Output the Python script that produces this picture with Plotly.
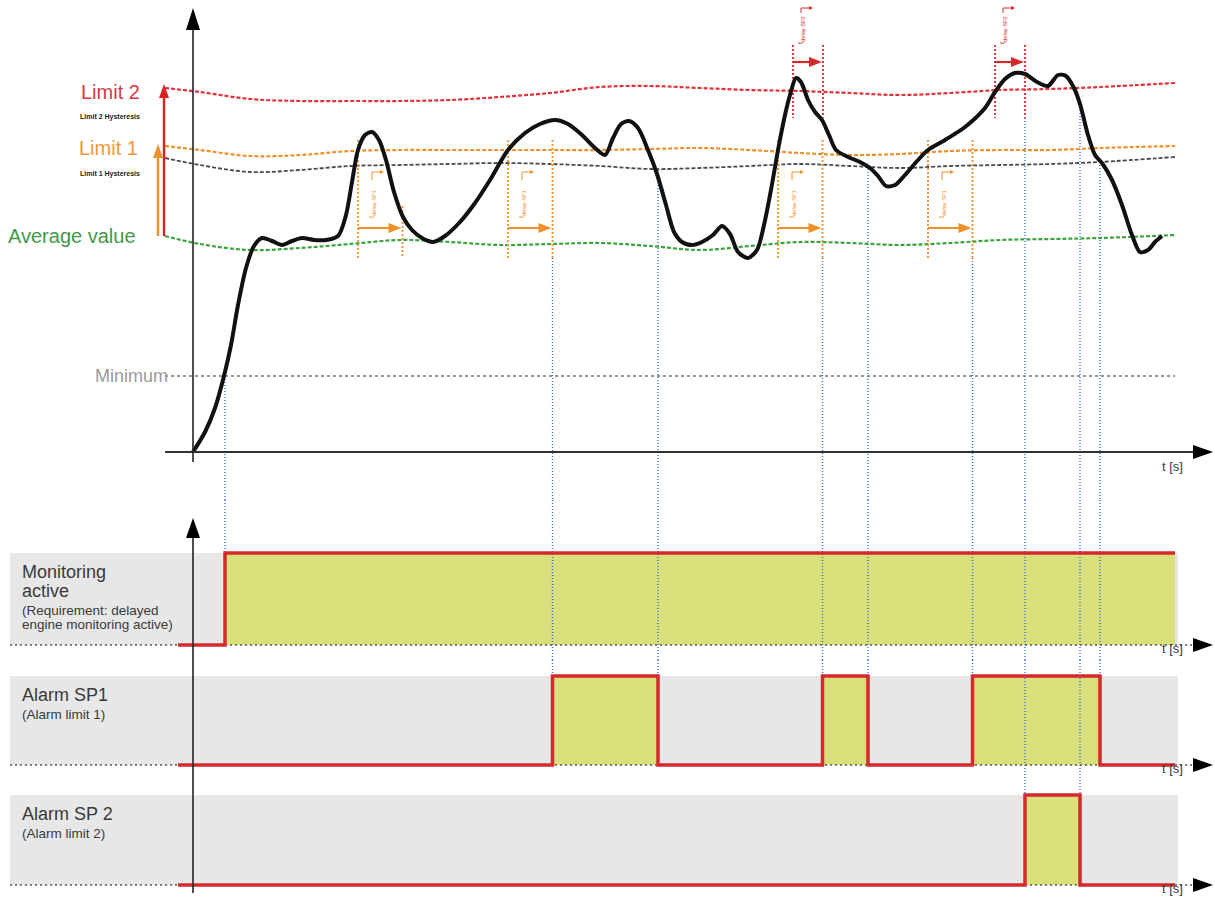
import plotly.graph_objects as go

W, H = 1215, 905
FONT = "Liberation Sans, Arial, sans-serif"

# ---------------- data ----------------
# measured signal (time [s], value)
signal_t = [0.0, 1.2, 2.2, 3.1, 3.8, 4.5, 5.3, 6.1, 6.9, 7.9,
            8.9, 9.9, 10.9, 12.1, 13.3, 14.5, 15.3, 15.9, 16.5, 17.2,
            17.9, 18.6, 19.3, 20.1, 21.0, 21.9, 22.9, 24.0, 25.2, 26.7,
            28.2, 29.7, 31.5, 33.2, 34.7, 36.2, 37.5, 38.9, 40.2, 41.2,
            42.0, 42.8, 43.6, 44.5, 45.5, 46.4, 47.3, 48.1, 48.9, 49.9,
            50.9, 52.0, 52.9, 53.7, 54.5, 55.5, 56.4, 57.1, 57.8, 58.5,
            59.2, 59.7, 60.3, 60.8, 61.5, 62.2, 62.9, 63.6, 64.3, 65.5,
            66.7, 67.7, 68.5, 69.3, 70.2, 71.2, 72.5, 73.5, 75.2, 77.2,
            79.2, 80.2, 81.2, 82.2, 83.2, 84.4, 85.5, 86.5, 87.3, 88.1,
            88.7, 89.5, 90.2, 90.9, 91.9, 92.9, 93.9, 94.7, 95.5, 96.2, 96.9]
signal_v = [0, 10, 22, 38, 53.5, 73.5, 92, 103, 107, 105.5,
            103.5, 105.5, 107, 106, 106, 108, 118.5, 135, 151, 158.5,
            160, 156, 146, 130, 117.5, 111, 107, 105, 108, 115,
            124.5, 136, 151, 159.5, 164, 166, 164, 158.5, 152, 148.5,
            157, 164, 165.5, 162, 151, 139, 123.5, 110, 105, 103.5,
            105, 108.5, 113, 109, 100, 97, 101, 113.5, 131, 151,
            168.5, 178.5, 187, 185, 176, 170, 166, 158.5, 151, 147.5,
            145, 142, 138, 133, 133.5, 138.5, 146, 151, 156, 162.5,
            172, 180, 186.5, 189.5, 189, 185, 183, 188.5, 188, 182,
            174, 158.5, 148.5, 144.5, 136, 123.5, 108.5, 100, 101, 105, 108]

# reference levels (slightly wavy)
ref_t = [-2.8, 0.7, 5.7, 10.7, 15.7, 20.7, 25.7, 30.7, 35.7, 40.7, 45.7,
         50.7, 55.7, 60.7, 65.7, 70.7, 75.7, 80.7, 85.7, 90.7, 98.2]
limit2_v = [182, 180, 176.5, 175.5, 175.5, 175.5, 176, 177.5, 179.5, 182.5, 183,
            182, 181, 180.5, 179.5, 178.5, 179.5, 181, 181.5, 182.5, 184.5]
limit1_v = [153, 151, 148, 148.5, 150.5, 151, 151, 151, 151, 151, 151.5,
            152, 151, 149.5, 148.5, 149, 150.5, 151, 151, 152, 153]
hyst1_v = [147, 143.5, 140, 141, 143, 143.5, 144, 144.5, 144, 143, 141.5,
           142, 143, 144, 143, 142, 143, 143.5, 144, 145, 147.5]
average_v = [108, 104, 101, 102, 104, 106, 105, 103.5, 104, 104.5, 103,
             101, 103, 105, 104.5, 103.5, 104.5, 106, 106.5, 107, 108.5]
minimum_v = 38

# delays and events
delay_sp1 = 4.45
sp1_cross = [16.5, 31.5, 58.5, 73.5]
delay_sp2 = 3.0
sp2_cross = [60.0, 80.2]
monitor_on = 3.2
sp1_on = [35.95, 62.95, 77.95]
sp1_off = [46.5, 67.5, 90.7]
sp2_on = [83.2]
sp2_off = [88.7]

# vertical guide lines: time, starting value in the top chart, panel where it ends
guide_t = [3.2, 35.95, 46.5, 62.95, 67.5, 77.95, 83.2, 88.7, 90.7]
guide_v = [38, 97, 141, 97, 143, 97, 167, 174, 145]
guide_panel = [1, 2, 2, 2, 2, 2, 3, 3, 2]

panel_labels = [
    [("Monitoring", 18), ("active", 18), ("(Requirement: delayed", 13.5), ("engine monitoring active)", 13.5)],
    [("Alarm SP1", 18), ("(Alarm limit 1)", 13.5)],
    [("Alarm SP 2", 18), ("(Alarm limit 2)", 13.5)],
]

# ---------------- layout geometry ----------------
X_RANGE = [-19.3, 102.2]
SX = W / (X_RANGE[1] - X_RANGE[0])
TOP_RANGE = [-24, 226]
TOP_PX = (0, 500)
SY_TOP = (TOP_PX[1] - TOP_PX[0]) / (TOP_RANGE[1] - TOP_RANGE[0])

# panels: (domain top px, domain bottom px, baseline px, high px)
panel_geo = [(500, 660, 645, 553), (660, 780, 765, 676), (780, 905, 885, 795)]


def paper_y(py):
    return 1 - py / H


def panel_axis(top, bottom, base, high):
    h = base - high
    return dict(domain=[paper_y(bottom), paper_y(top)],
                range=[(base - bottom) / h, (base - top) / h]), h


def head(tip_x, tip_y, direction, length, half, sx, sy):
    if direction == "right":
        bx = tip_x - length / sx
        return f"M {tip_x},{tip_y} L {bx},{tip_y + half / sy} L {bx},{tip_y - half / sy} Z"
    by = tip_y - length / sy
    return f"M {tip_x},{tip_y} L {tip_x - half / sx},{by} L {tip_x + half / sx},{by} Z"


fig = go.Figure()
shapes = []
annotations = []


def arrow(x0, y0, x1, y1, direction, color, width, length, half, sx, sy, xref="x", yref="y"):
    """shaft + filled head, in data coordinates"""
    if direction == "right":
        xe, ye = x1 - length / sx * 0.8, y1
    else:
        xe, ye = x1, y1 - length / sy * 0.8
    shapes.append(dict(type="line", xref=xref, yref=yref, x0=x0, y0=y0, x1=xe, y1=ye,
                       line=dict(color=color, width=width)))
    shapes.append(dict(type="path", xref=xref, yref=yref,
                       path=head(x1, y1, direction, length, half, sx, sy),
                       fillcolor=color, line_width=0))


axis_hidden = dict(visible=False, showgrid=False, zeroline=False, fixedrange=True)
layout_axes = {
    "xaxis": dict(range=X_RANGE, domain=[0, 1], anchor="y", **axis_hidden),
    "yaxis": dict(range=TOP_RANGE, domain=[paper_y(TOP_PX[1]), paper_y(TOP_PX[0])], anchor="x", **axis_hidden),
}
panel_scale = []
panel_range = []
for i, (top, bottom, base, high) in enumerate(panel_geo):
    ax, h = panel_axis(top, bottom, base, high)
    layout_axes[f"yaxis{i + 2}"] = dict(anchor="x", **ax, **axis_hidden)
    panel_scale.append(h)
    panel_range.append(ax["range"])

RED = "#d42a2e"
ORANGE = "#f0902a"
GREEN = "#3aa33e"
BLUE = "#3f6fcc"
FILL = "#d8df7b"
BAND = "#e7e7e7"
TEXT = "#3a3a3a"

# ---------------- bottom panels ----------------
panel_steps = [
    ([-1.5, monitor_on, 98.2], [0, 1, 1]),
]
for ons, offs in ((sp1_on, sp1_off), (sp2_on, sp2_off)):
    ts, ys = [-1.5], [0]
    for a, b in zip(ons, offs):
        ts += [a, b]
        ys += [1, 0]
    ts.append(98.2)
    ys.append(0)
    panel_steps.append((ts, ys))

for i, (ts, ys) in enumerate(panel_steps):
    yref = f"y{i + 2}"
    shapes.append(dict(type="rect", xref="x", yref=yref, x0=-18.3, x1=98.5, y0=0, y1=1,
                       fillcolor=BAND, line_width=0, layer="below"))
    fig.add_trace(go.Scatter(x=ts, y=ys, yaxis=yref, mode="lines", line_shape="hv",
                             line=dict(width=0, color=FILL), fill="tozeroy", fillcolor=FILL,
                             hoverinfo="skip"))

# blue guide lines
for t, v0, pn in zip(guide_t, guide_v, guide_panel):
    style = dict(color=BLUE, width=1.4, dash="1px,2px")
    fig.add_trace(go.Scatter(x=[t, t], y=[v0, TOP_RANGE[0]], yaxis="y", mode="lines",
                             line=style, hoverinfo="skip"))
    for p in range(1, pn + 1):
        lo, hi = panel_range[p - 1]
        end = 1 if p == pn else lo
        fig.add_trace(go.Scatter(x=[t, t], y=[hi, end], yaxis=f"y{p + 1}", mode="lines",
                                 line=style, hoverinfo="skip"))

for i, (ts, ys) in enumerate(panel_steps):
    yref = f"y{i + 2}"
    fig.add_trace(go.Scatter(x=[-18.3, 100.0], y=[0, 0], yaxis=yref, mode="lines",
                             line=dict(color="#555555", width=1.6, dash="2px,3px"), hoverinfo="skip"))
    fig.add_trace(go.Scatter(x=ts, y=ys, yaxis=yref, mode="lines", line_shape="hv",
                             line=dict(width=3.5, color=RED), hoverinfo="skip"))
    shapes.append(dict(type="path", xref="x", yref=yref,
                       path=head(102.0, 0, "right", 20, 7, SX, panel_scale[i]),
                       fillcolor="black", line_width=0))
    base_py = panel_geo[i][2]
    annotations.append(dict(x=1172 / W, y=paper_y(base_py + 13), xref="paper", yref="paper",
                            text="t [s]", showarrow=False, xanchor="center",
                            font=dict(size=13, color=TEXT, family=FONT)))
    top_py = panel_geo[i][3] + 19
    for text, size in panel_labels[i]:
        annotations.append(dict(x=20 / W, y=paper_y(top_py), xref="paper", yref="paper",
                                text=text, showarrow=False, xanchor="left", yanchor="middle",
                                font=dict(size=size, color=TEXT, family=FONT)))
        top_py += 19 if size > 15 else 14

# bottom vertical axis
shapes.append(dict(type="line", xref="x", yref="paper", x0=0, x1=0,
                   y0=paper_y(893), y1=paper_y(534), line=dict(color="#222", width=1.6)))
shapes.append(dict(type="path", xref="x", yref="paper",
                   path=head(0, paper_y(518), "up", 20, 7, SX, H), fillcolor="black", line_width=0))

# ---------------- top chart ----------------
dash = "4px,2px"
fig.add_trace(go.Scatter(x=[ref_t[0], ref_t[-1]], y=[minimum_v, minimum_v], mode="lines",
                         line=dict(color="#777777", width=1.4, dash="3px,3px"), hoverinfo="skip"))
fig.add_trace(go.Scatter(x=ref_t, y=average_v, mode="lines", line_shape="spline",
                         line=dict(color=GREEN, width=2.2, dash=dash), hoverinfo="skip"))
fig.add_trace(go.Scatter(x=ref_t, y=hyst1_v, mode="lines", line_shape="spline",
                         line=dict(color="#4a4a4a", width=1.8, dash=dash), hoverinfo="skip"))
fig.add_trace(go.Scatter(x=ref_t, y=limit1_v, mode="lines", line_shape="spline",
                         line=dict(color=ORANGE, width=2.2, dash=dash), hoverinfo="skip"))
fig.add_trace(go.Scatter(x=ref_t, y=limit2_v, mode="lines", line_shape="spline",
                         line=dict(color="#e0323a", width=2.2, dash=dash), hoverinfo="skip"))

# delay markers SP1 (orange)
for k, c in enumerate(sp1_cross):
    e = c + delay_sp1
    dstyle = dict(color=ORANGE, width=1.8, dash="2px,2px")
    fig.add_trace(go.Scatter(x=[c, c], y=[156, 97], mode="lines", line=dstyle, hoverinfo="skip"))
    fig.add_trace(go.Scatter(x=[e, e], y=[(123 if k == 0 else 156), 97], mode="lines", line=dstyle,
                             hoverinfo="skip"))
    arrow(c, 112, e - 0.1, 112, "right", ORANGE, 2.2, 13, 5, SX, SY_TOP)
    annotations.append(dict(x=c + 1.4, y=124, xref="x", yref="y", text="t<sub>delay SP1</sub>",
                            textangle=-90, showarrow=False, font=dict(size=8, color=ORANGE, family=FONT)))
    shapes.append(dict(type="path", xref="x", yref="y",
                       path=f"M {c + 1.4},{136} L {c + 1.4},{140} L {c + 2.2},{140}",
                       line=dict(color=ORANGE, width=1)))
    shapes.append(dict(type="path", xref="x", yref="y", path=head(c + 2.6, 140, "right", 4, 2, SX, SY_TOP),
                       fillcolor=ORANGE, line_width=0))

# delay markers SP2 (red)
for c in sp2_cross:
    e = c + delay_sp2
    dstyle = dict(color=RED, width=1.8, dash="2px,2px")
    fig.add_trace(go.Scatter(x=[c, c], y=[203.5, 167], mode="lines", line=dstyle, hoverinfo="skip"))
    fig.add_trace(go.Scatter(x=[e, e], y=[203.5, 167], mode="lines", line=dstyle, hoverinfo="skip"))
    arrow(c, 195, e - 0.1, 195, "right", RED, 2.2, 13, 5, SX, SY_TOP)
    annotations.append(dict(x=c + 0.8, y=211, xref="x", yref="y", text="t<sub>delay SP2</sub>",
                            textangle=-90, showarrow=False, font=dict(size=8, color=RED, family=FONT)))
    shapes.append(dict(type="path", xref="x", yref="y",
                       path=f"M {c + 0.8},{219.5} L {c + 0.8},{222} L {c + 1.6},{222}",
                       line=dict(color=RED, width=1)))
    shapes.append(dict(type="path", xref="x", yref="y", path=head(c + 2.0, 222, "right", 4, 2, SX, SY_TOP),
                       fillcolor=RED, line_width=0))

# signal curve
fig.add_trace(go.Scatter(x=signal_t, y=signal_v, mode="lines", line_shape="spline",
                         line=dict(color="#111111", width=4, smoothing=0.8), hoverinfo="skip"))

# top axes
shapes.append(dict(type="line", xref="x", yref="y", x0=-2.8, x1=100.2, y0=0, y1=0,
                   line=dict(color="#333", width=1.8)))
shapes.append(dict(type="path", xref="x", yref="y", path=head(102.0, 0, "right", 20, 7, SX, SY_TOP),
                   fillcolor="black", line_width=0))
shapes.append(dict(type="line", xref="x", yref="y", x0=0, x1=0, y0=-5, y1=212,
                   line=dict(color="#222", width=1.6)))
shapes.append(dict(type="path", xref="x", yref="y", path=head(0, 222, "up", 22, 7, SX, SY_TOP),
                   fillcolor="black", line_width=0))
annotations.append(dict(x=1172 / W, y=paper_y(466), xref="paper", yref="paper", text="t [s]",
                        showarrow=False, xanchor="center", font=dict(size=13, color=TEXT, family=FONT)))

# left range arrows
arrow(-2.9, 108, -2.9, 184, "up", "#e02020", 2.4, 14, 5, SX, SY_TOP)
arrow(-3.5, 108, -3.5, 154, "up", ORANGE, 2.4, 14, 5, SX, SY_TOP)

# left labels
left_labels = [
    ("Limit 2", 180, "#d43a44", 20, -5.1),
    ("<b>Limit 2 Hysteresis</b>", 167.5, "#222", 7, -5.1),
    ("Limit 1", 152, "#f2963c", 20, -5.3),
    ("<b>Limit 1 Hysteresis</b>", 139, "#222", 7, -5.1),
    ("Average value", 108, "#3f9a4a", 20, -5.5),
    ("Minimum", 38, "#9a9a9a", 18, -2.3),
]
for text, v, col, size, xr in left_labels:
    annotations.append(dict(x=xr, y=v, xref="x", yref="y", text=text, showarrow=False,
                            xanchor="right", yanchor="middle", font=dict(size=size, color=col, family=FONT)))

fig.update_layout(
    width=W, height=H, margin=dict(l=0, r=0, t=0, b=0),
    paper_bgcolor="white", plot_bgcolor="rgba(0,0,0,0)",
    showlegend=False, shapes=shapes, annotations=annotations,
    **layout_axes,
)

fig.write_html("out.html", config={"displayModeBar": False, "staticPlot": True},
               post_script="document.body.style.margin='0';document.body.style.overflow='hidden';")
